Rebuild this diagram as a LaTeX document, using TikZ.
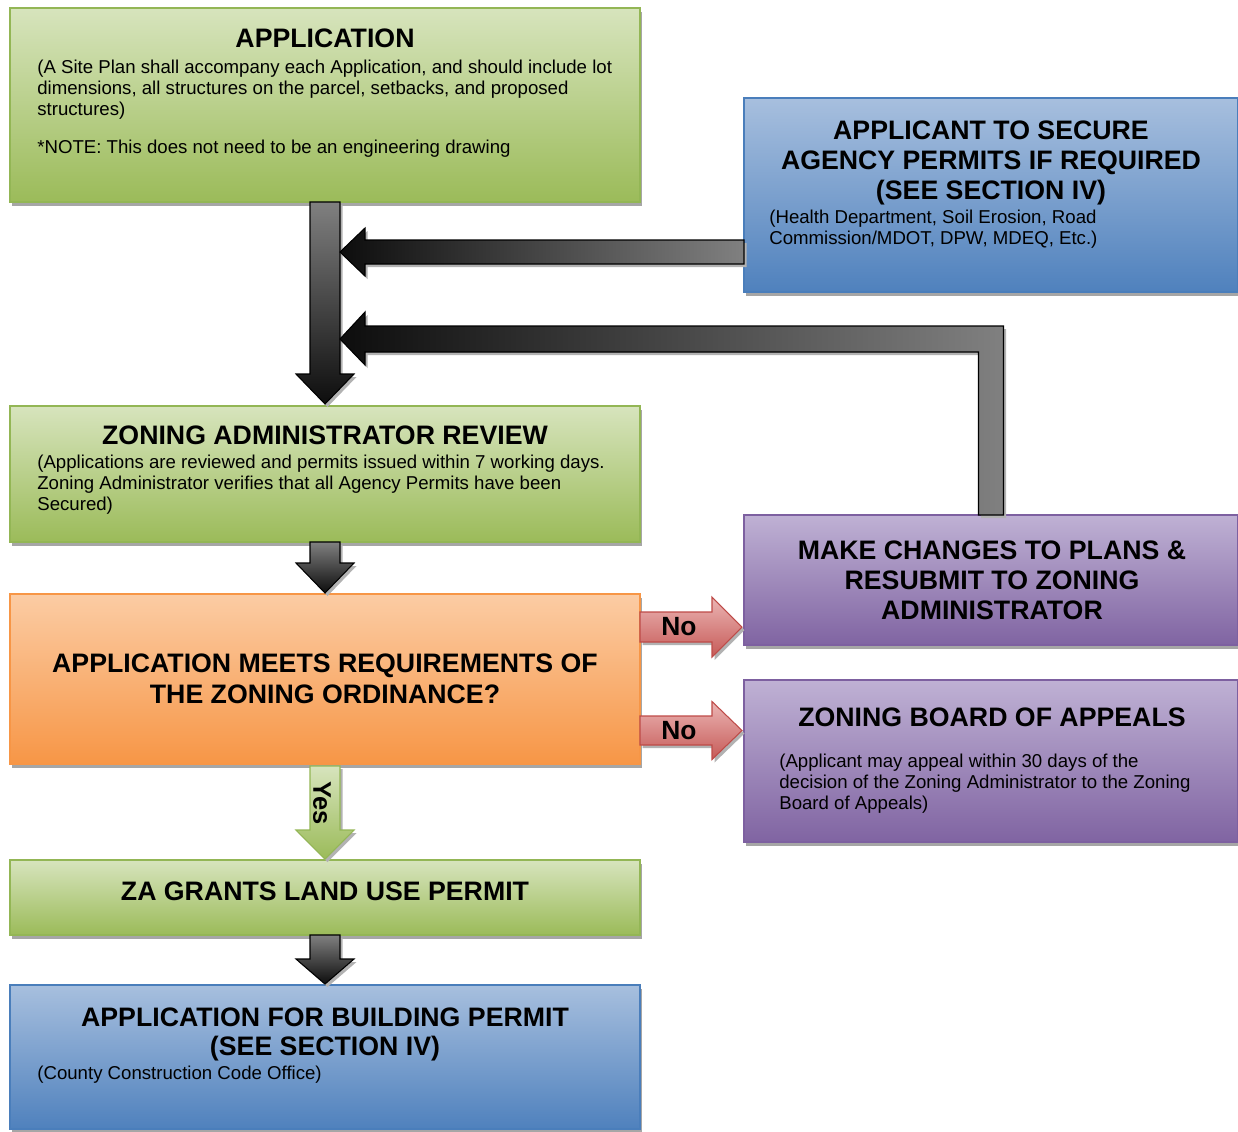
\documentclass[tikz,border=0pt]{standalone}
\usepackage{fontspec}
\setmainfont{Liberation Sans}
\usetikzlibrary{calc,shadows}
\definecolor{gTop}{HTML}{D7E4BD}
\definecolor{gBot}{HTML}{9BBB59}
\definecolor{gLine}{HTML}{93B655}
\definecolor{bTop}{HTML}{A7BFDE}
\definecolor{bBot}{HTML}{4F81BD}
\definecolor{bLine}{HTML}{4A7EBB}
\definecolor{pTop}{HTML}{BFB1D4}
\definecolor{pBot}{HTML}{8064A2}
\definecolor{pLine}{HTML}{7D60A0}
\definecolor{oTop}{HTML}{FBCCA4}
\definecolor{oBot}{HTML}{F79646}
\definecolor{oLine}{HTML}{F79646}
\definecolor{rTop}{HTML}{EBB5B4}
\definecolor{rBot}{HTML}{C65A57}
\definecolor{rLine}{HTML}{BE4B48}
\definecolor{dLight}{HTML}{808080}
\definecolor{dDark}{HTML}{0D0D0D}
\begin{document}
\begin{tikzpicture}[x=0.2mm,y=-0.2mm,
  box/.style={rectangle, inner sep=0pt, outer sep=0pt, anchor=north west, line width=0.7pt,
    drop shadow={shadow xshift=0.3mm, shadow yshift=-0.8mm, fill=black!35, opacity=1}},
  gbox/.style={box, top color=gTop, bottom color=gBot, draw=gLine},
  bbox/.style={box, top color=bTop, bottom color=bBot, draw=bLine},
  pbox/.style={box, top color=pTop, bottom color=pBot, draw=pLine},
  obox/.style={box, top color=oTop, bottom color=oBot, draw=oLine},
  hd/.style={font=\fontsize{15.2}{17.3}\selectfont\bfseries, align=center, inner sep=0pt, anchor=north},
  bd/.style={font=\fontsize{10.6}{11.9}\selectfont, align=left, inner sep=0pt, anchor=north west},
  ashadow/.style={drop shadow={shadow xshift=0.5mm, shadow yshift=-0.6mm, fill=black!30, opacity=1}},
  darrowV/.style={ashadow, top color=dLight, bottom color=dDark, draw=black, line width=0.6pt},
  darrowH/.style={ashadow, left color=dDark, right color=dLight, draw=black, line width=0.6pt},
  garrow/.style={ashadow, top color=gTop, bottom color=gBot, draw=gLine, line width=0.6pt},
  rarrow/.style={ashadow, top color=rTop, bottom color=rBot, draw=rLine, line width=0.6pt},
  lbl/.style={font=\fontsize{15}{17}\selectfont\bfseries, inner sep=0pt}
]
\useasboundingbox (0,0) rectangle (1238,1131);

% ---------- boxes ----------
\node[gbox, minimum width=126mm, minimum height=38.8mm] (app) at (10,8) {};
\node[bbox, minimum width=98.8mm, minimum height=38.8mm] (sec) at (744,98) {};
\node[gbox, minimum width=126mm, minimum height=27.2mm] (zar) at (10,406) {};
\node[pbox, minimum width=98.8mm, minimum height=26mm] (mcz) at (744,515) {};
\node[obox, minimum width=126mm, minimum height=34mm] (meets) at (10,594) {};
\node[pbox, minimum width=98.8mm, minimum height=32.4mm] (zba) at (744,680) {};
\node[gbox, minimum width=126mm, minimum height=15mm] (grant) at (10,860) {};
\node[bbox, minimum width=126mm, minimum height=28.8mm] (bld) at (10,985) {};

% ---------- texts ----------
\node[hd] (appH) at (325,28.5) {APPLICATION};
\node[bd] (appB) at (37,59.5) {(A Site Plan shall accompany each Application, and should include lot\\dimensions, all structures on the parcel, setbacks, and proposed\\structures)};
\node[bd] (appN) at (37,139.5) {*NOTE: This does not need to be an engineering drawing};

\node[hd] (secH) at (991,120) {APPLICANT TO SECURE\\AGENCY PERMITS IF REQUIRED\\(SEE SECTION IV)};
\node[bd] (secB) at (769,209.5) {(Health Department, Soil Erosion, Road\\Commission/MDOT, DPW, MDEQ, Etc.)};

\node[hd] (zarH) at (325,425) {ZONING ADMINISTRATOR REVIEW};
\node[bd] (zarB) at (37,454.5) {(Applications are reviewed and permits issued within 7 working days.\\Zoning Administrator verifies that all Agency Permits have been\\Secured)};

\node[hd, font=\fontsize{15.2}{18.1}\selectfont\bfseries] (meetsH) at (325,653) {APPLICATION MEETS REQUIREMENTS OF\\THE ZONING ORDINANCE?};

\node[hd] (mczH) at (992,540) {MAKE CHANGES TO PLANS \&\\RESUBMIT TO ZONING\\ADMINISTRATOR};

\node[hd] (zbaH) at (992,707) {ZONING BOARD OF APPEALS};
\node[bd] (zbaB) at (779,753.5) {(Applicant may appeal within 30 days of the\\decision of the Zoning Administrator to the Zoning\\Board of Appeals)};

\node[hd] (grantH) at (325,881) {ZA GRANTS LAND USE PERMIT};

\node[hd, font=\fontsize{15.2}{17}\selectfont\bfseries] (bldH) at (325,1007) {APPLICATION FOR BUILDING PERMIT\\(SEE SECTION IV)};
\node[bd] (bldB) at (37,1065.5) {(County Construction Code Office)};

% ---------- arrows ----------
% main vertical arrow: application -> review
\shade[darrowV] ($(app.south)+(-15,0)$) -- ($(app.south)+(15,0)$) -- ($(zar.north)+(15,-32)$)
  -- ($(zar.north)+(29,-32)$) -- ($(zar.north)+(0,-2)$) -- ($(zar.north)+(-29,-32)$)
  -- ($(zar.north)+(-15,-32)$) -- cycle;

% agency permits -> main arrow
\coordinate (t1) at ($(app.south)+(15,50)$);
\shade[darrowH] (t1) -- ($(t1)+(25,-24)$) -- ($(t1)+(25,-12)$) -- ($(t1 -| sec.west)+(0,-12)$)
  -- ($(t1 -| sec.west)+(0,12)$) -- ($(t1)+(25,12)$) -- ($(t1)+(25,24)$) -- cycle;

% resubmit (bent) -> main arrow
\coordinate (t2) at ($(app.south)+(15,137)$);
\shade[darrowH] (t2) -- ($(t2)+(25,-27)$) -- ($(t2)+(25,-13)$) -- ($(mcz.north)+(12.5,-189)$)
  -- ($(mcz.north)+(12.5,0)$) -- ($(mcz.north)+(-12.5,0)$) -- ($(mcz.north)+(-12.5,-163)$)
  -- ($(t2)+(25,13)$) -- ($(t2)+(25,26)$) -- cycle;

% review -> meets
\shade[darrowV] ($(zar.south)+(-15,0)$) -- ($(zar.south)+(15,0)$) -- ($(meets.north)+(15,-31)$)
  -- ($(meets.north)+(29,-31)$) -- ($(meets.north)+(0,-1)$) -- ($(meets.north)+(-29,-31)$)
  -- ($(meets.north)+(-15,-31)$) -- cycle;

% yes arrow: meets -> grant
\shade[garrow] ($(meets.south)+(-15,2)$) -- ($(meets.south)+(15,2)$) -- ($(grant.north)+(15,-30)$)
  -- ($(grant.north)+(29,-30)$) -- ($(grant.north)+(0,-1)$) -- ($(grant.north)+(-29,-30)$)
  -- ($(grant.north)+(-15,-30)$) -- cycle;
\node[lbl, font=\fontsize{14.5}{17}\selectfont\bfseries, rotate=-90] (yes) at (322,803) {Yes};

% grant -> building
\shade[darrowV] ($(grant.south)+(-15,0)$) -- ($(grant.south)+(15,0)$) -- ($(bld.north)+(15,-26)$)
  -- ($(bld.north)+(29,-26)$) -- ($(bld.north)+(0,-1)$) -- ($(bld.north)+(-29,-26)$)
  -- ($(bld.north)+(-15,-26)$) -- cycle;

% no arrows
\coordinate (n1) at ($(meets.east)+(0,-52)$);
\shade[rarrow] ($(n1)+(0,-15)$) -- ($(n1 -| mcz.west)+(-32,-15)$) -- ($(n1 -| mcz.west)+(-32,-30)$)
  -- ($(n1 -| mcz.west)+(-2,0)$) -- ($(n1 -| mcz.west)+(-32,30)$) -- ($(n1 -| mcz.west)+(-32,15)$)
  -- ($(n1)+(0,15)$) -- cycle;
\node[lbl] (no1) at ($(n1)+(39,0)$) {No};

\coordinate (n2) at ($(meets.east)+(0,51.5)$);
\shade[rarrow] ($(n2)+(0,-14.5)$) -- ($(n2 -| zba.west)+(-32,-14.5)$) -- ($(n2 -| zba.west)+(-32,-29)$)
  -- ($(n2 -| zba.west)+(-2,0)$) -- ($(n2 -| zba.west)+(-32,29)$) -- ($(n2 -| zba.west)+(-32,14.5)$)
  -- ($(n2)+(0,14.5)$) -- cycle;
\node[lbl] (no2) at ($(n2)+(39,0)$) {No};
\end{tikzpicture}
\end{document}
